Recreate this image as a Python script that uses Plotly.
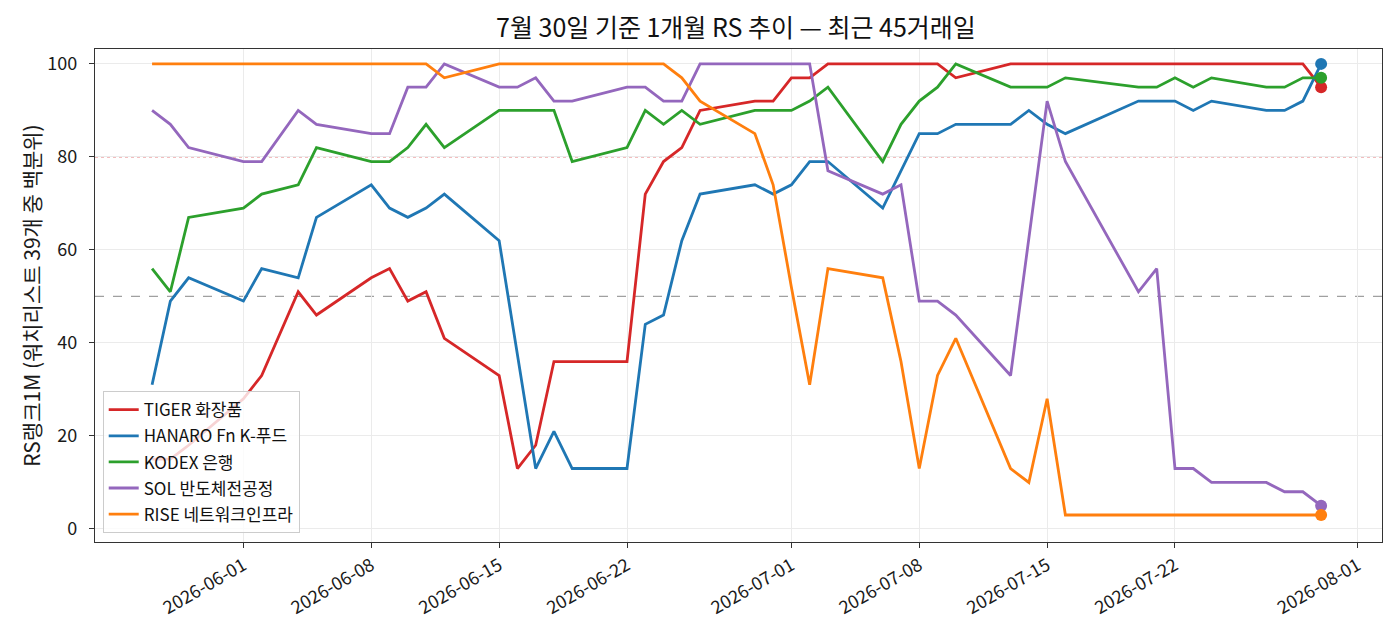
import plotly.graph_objects as go

# 45 trading days (06-03 and 07-17 are holidays)
dates = ["2026-05-27", "2026-05-28", "2026-05-29", "2026-06-01", "2026-06-02",
         "2026-06-04", "2026-06-05", "2026-06-08", "2026-06-09", "2026-06-10",
         "2026-06-11", "2026-06-12", "2026-06-15", "2026-06-16", "2026-06-17",
         "2026-06-18", "2026-06-19", "2026-06-22", "2026-06-23", "2026-06-24",
         "2026-06-25", "2026-06-26", "2026-06-29", "2026-06-30", "2026-07-01",
         "2026-07-02", "2026-07-03", "2026-07-06", "2026-07-07", "2026-07-08",
         "2026-07-09", "2026-07-10", "2026-07-13", "2026-07-14", "2026-07-15",
         "2026-07-16", "2026-07-20", "2026-07-21", "2026-07-22", "2026-07-23",
         "2026-07-24", "2026-07-27", "2026-07-28", "2026-07-29", "2026-07-30"]

tiger = [15, 15, 18, 28, 33, 51, 46, 54, 56, 49, 51, 41, 33, 13, 18, 36, 36, 36, 72, 79,
         82, 90, 92, 92, 97, 97, 100, 100, 100, 100, 100, 97, 100, 100, 100, 100, 100, 100,
         100, 100, 100, 100, 100, 100, 95]
hanaro = [31, 49, 54, 49, 56, 54, 67, 74, 69, 67, 69, 72, 62, 38, 13, 21, 13, 13, 44, 46,
          62, 72, 74, 72, 74, 79, 79, 69, 77, 85, 85, 87, 87, 90, 87, 85, 92, 92, 92, 90,
          92, 90, 90, 92, 100]
kodex = [56, 51, 67, 69, 72, 74, 82, 79, 79, 82, 87, 82, 90, 90, 90, 90, 79, 82, 90, 87,
         90, 87, 90, 90, 90, 92, 95, 79, 87, 92, 95, 100, 95, 95, 95, 97, 95, 95, 97, 95,
         97, 95, 95, 97, 97]
sol = [90, 87, 82, 79, 79, 90, 87, 85, 85, 95, 95, 100, 95, 95, 97, 92, 92, 95, 95, 92,
       92, 100, 100, 100, 100, 100, 77, 72, 74, 49, 49, 46, 33, 63, 92, 79, 51, 56, 13, 13,
       10, 10, 8, 8, 5]
rise = [100, 100, 100, 100, 100, 100, 100, 100, 100, 100, 100, 97, 100, 100, 100, 100, 100,
        100, 100, 100, 97, 92, 85, 74, 52, 31, 56, 54, 36, 13, 33, 41, 13, 10, 28, 3, 3, 3,
        3, 3, 3, 3, 3, 3, 3]

names = ["TIGER 화장품", "HANARO Fn K-푸드", "KODEX 은행", "SOL 반도체전공정", "RISE 네트워크인프라"]
series = [tiger, hanaro, kodex, sol, rise]
colors = ["#d62728", "#1f77b4", "#2ca02c", "#9467bd", "#ff7f0e"]

tick_dates = ["2026-06-01", "2026-06-08", "2026-06-15", "2026-06-22", "2026-07-01",
              "2026-07-08", "2026-07-15", "2026-07-22", "2026-08-01"]

FONT = "Noto Sans CJK KR"

fig = go.Figure()
for name, vals, col in zip(names, series, colors):
    fig.add_trace(go.Scatter(x=dates, y=vals, mode="lines", name=name, legendgroup=name,
                             line=dict(color=col, width=2.8)))
    fig.add_trace(go.Scatter(x=[dates[-1]], y=[vals[-1]], mode="markers", showlegend=False,
                             legendgroup=name, marker=dict(color=col, size=12),
                             hoverinfo="skip"))

# reference lines
fig.add_shape(type="line", xref="paper", x0=0, x1=1, y0=80, y1=80, layer="below",
              line=dict(color="rgba(214,39,40,0.6)", width=1.2, dash="dot"))
fig.add_shape(type="line", xref="paper", x0=0, x1=1, y0=50, y1=50, layer="below",
              line=dict(color="#a0a0a0", width=1.2, dash="dash"))

axis_common = dict(showline=True, linecolor="#333333", linewidth=1.2, mirror=True,
                   ticks="outside", ticklen=5, tickcolor="#333333", showgrid=True,
                   gridcolor="#ebebeb", gridwidth=1, zeroline=False, automargin=False,
                   tickfont=dict(family=FONT, size=18, color="#1a1a1a"))

# page body has an 8px margin, so the figure is 16px smaller than the window
fig.update_layout(
    width=1384, height=628,
    paper_bgcolor="white", plot_bgcolor="white",
    margin=dict(l=87, r=10, t=41, b=94),
    title=dict(text="7월 30일 기준 1개월 RS 추이 — 최근 45거래일", x=0.526, xanchor="center",
               y=0.968, yanchor="middle", font=dict(family=FONT, size=25, color="#111111")),
    xaxis=dict(axis_common, type="date", range=["2026-05-23 21:00", "2026-08-02 08:00"],
               tickvals=tick_dates, ticktext=tick_dates, tickangle=-30),
    yaxis=dict(axis_common, range=[-2.8, 103.2], tickvals=[0, 20, 40, 60, 80, 100],
               ticklabelstandoff=8,
               title=dict(text="RS랭크1M (워치리스트 39개 중 백분위)", standoff=0,
                          font=dict(family=FONT, size=21, color="#1a1a1a"))),
    legend=dict(x=0.006, y=0.018, xanchor="left", yanchor="bottom",
                bgcolor="rgba(255,255,255,0.8)", bordercolor="#cccccc", borderwidth=1,
                font=dict(family=FONT, size=17, color="#111111"), tracegroupgap=1),
    showlegend=True,
)

fig.write_html("out.html")
